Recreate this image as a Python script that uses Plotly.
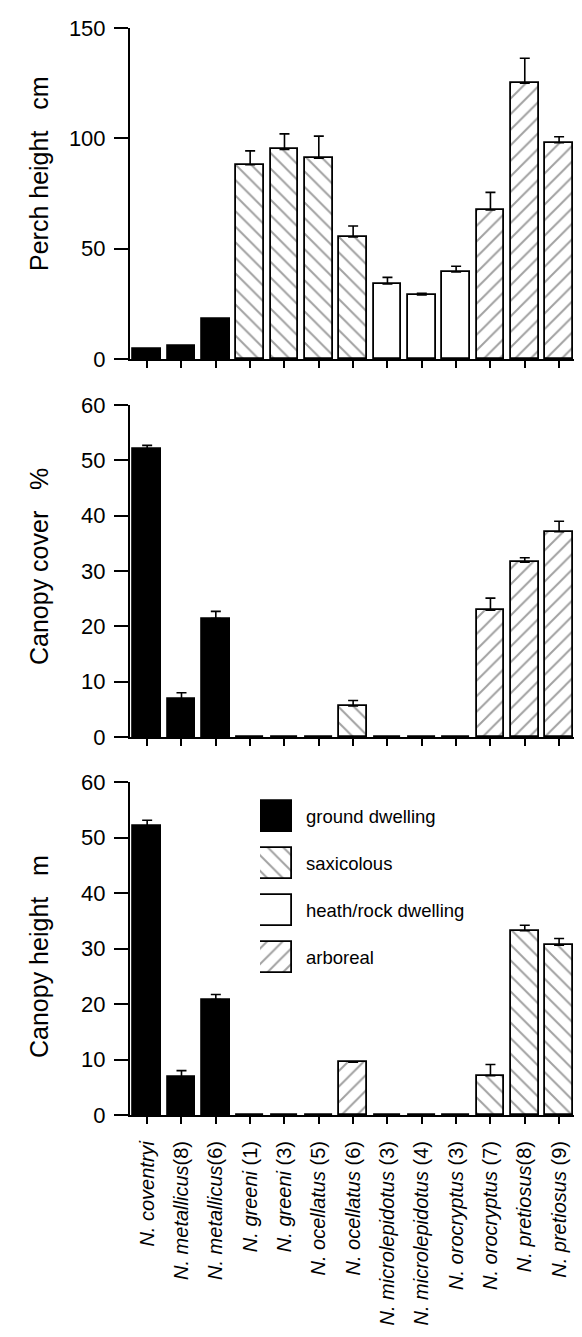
import plotly.graph_objects as go

# ---------------- data ----------------
species = ["<i>N. coventryi</i>", "<i>N. metallicus</i>(8)", "<i>N. metallicus</i>(6)",
           "<i>N. greeni</i> (1)", "<i>N. greeni</i> (3)", "<i>N. ocellatus</i> (5)",
           "<i>N. ocellatus</i> (6)", "<i>N. microlepidotus</i> (3)", "<i>N. microlepidotus</i> (4)",
           "<i>N. orocryptus</i> (3)", "<i>N. orocryptus</i> (7)", "<i>N. pretiosus</i>(8)",
           "<i>N. pretiosus</i> (9)"]

perch_height = [4.5, 6.0, 18.0, 88.0, 95.0, 91.0, 55.3, 34.0, 29.0, 39.5, 67.5, 125.0, 98.0]
perch_err = [None, None, None, 6.3, 7.0, 10.0, 5.0, 3.0, 0.8, 2.5, 8.0, 11.3, 2.7]
perch_class = ["ground", "ground", "ground", "sax", "sax", "sax", "sax",
               "heath", "heath", "heath", "arb", "arb", "arb"]

canopy_cover = [52.0, 6.9, 21.4, 0, 0, 0, 5.6, 0, 0, 0, 22.9, 31.6, 37.1]
cover_err = [0.7, 1.1, 1.3, None, None, None, 1.0, None, None, None, 2.2, 0.8, 1.9]
cover_class = ["ground", "ground", "ground", "heath", "heath", "heath", "sax",
               "heath", "heath", "heath", "arb", "arb", "arb"]

canopy_height = [52.1, 6.85, 20.8, 0, 0, 0, 9.5, 0, 0, 0, 7.1, 33.2, 30.6]
height_err = [1.0, 1.15, 0.9, None, None, None, None, None, None, None, 2.0, 1.0, 1.2]
height_class = ["ground", "ground", "ground", "heath", "heath", "heath", "arb",
                "heath", "heath", "heath", "sax", "sax", "sax"]

legend_keys = ["ground", "sax", "heath", "arb"]
legend_labels = ["ground dwelling", "saxicolous", "heath/rock dwelling", "arboreal"]

# ---------------- styling ----------------
FONT = "Liberation Sans, Arial, Helvetica, sans-serif"
STYLE = {
    "ground": dict(color="black", shape=""),
    "sax": dict(color="white", shape="\\"),
    "heath": dict(color="white", shape=""),
    "arb": dict(color="white", shape="/"),
}
PAT_SIZE, PAT_SOLID = 11, 0.18

xpos = list(range(len(species)))


def bar_trace(vals, errs, classes, xa, ya):
    return go.Bar(
        x=xpos, y=vals, xaxis=xa, yaxis=ya, width=0.81, showlegend=False,
        marker=dict(
            color=[STYLE[c]["color"] for c in classes],
            line=dict(color="black", width=1.8),
            pattern=dict(shape=[STYLE[c]["shape"] for c in classes],
                         fgcolor="black", bgcolor="white", size=PAT_SIZE, solidity=PAT_SOLID),
        ),
        error_y=dict(type="data", array=errs, arrayminus=[0] * len(errs),
                     symmetric=False, color="black", thickness=1.6, width=5),
    )


fig = go.Figure()
fig.add_trace(bar_trace(perch_height, perch_err, perch_class, "x", "y"))
fig.add_trace(bar_trace(canopy_cover, cover_err, cover_class, "x2", "y2"))
fig.add_trace(bar_trace(canopy_height, height_err, height_class, "x3", "y3"))

# legend swatches drawn as bars on an auxiliary axis
fig.add_trace(go.Bar(
    x=[1] * 4, y=legend_keys, orientation="h", xaxis="x4", yaxis="y4", width=0.64,
    showlegend=False,
    marker=dict(
        color=[STYLE[k]["color"] for k in legend_keys],
        line=dict(color="black", width=1.8),
        pattern=dict(shape=[STYLE[k]["shape"] for k in legend_keys],
                     fgcolor="black", bgcolor="white", size=PAT_SIZE, solidity=PAT_SOLID),
    ),
))

H = 1337
top_px, bot_px = 20, 1107
span = bot_px - top_px


def py(p):
    return (bot_px - p) / span


xcommon = dict(range=[-0.5, 12.9], tickvals=xpos, showline=True, linewidth=2,
               linecolor="black", ticks="outside", ticklen=7, tickwidth=1.5,
               tickcolor="black", showgrid=False, zeroline=False, fixedrange=True)
ycommon = dict(showline=True, linewidth=2, linecolor="black", ticks="outside",
               ticklen=14, tickwidth=1.5, tickcolor="black", showgrid=False,
               zeroline=False, tickfont=dict(size=22, family=FONT, color="black"),
               ticklabelstandoff=4)

fig.update_layout(
    width=582, height=H, margin=dict(l=122, r=0, t=top_px, b=H - bot_px),
    paper_bgcolor="white", plot_bgcolor="white", bargap=0,
    font=dict(family=FONT, color="black"),
    xaxis=dict(**xcommon, anchor="y", showticklabels=False),
    xaxis2=dict(**xcommon, anchor="y2", showticklabels=False),
    xaxis3=dict(**xcommon, anchor="y3", ticktext=species, tickangle=-90,
                tickfont=dict(size=20, family=FONT, color="black"), ticklabelstandoff=9),
    yaxis=dict(**ycommon, domain=[py(351), py(20)], range=[0, 150], tickvals=[0, 50, 100, 150], anchor="x"),
    yaxis2=dict(**ycommon, domain=[py(729), py(397)], range=[0, 60], tickvals=[0, 10, 20, 30, 40, 50, 60], anchor="x2"),
    yaxis3=dict(**ycommon, domain=[0, py(774)], range=[0, 60], tickvals=[0, 10, 20, 30, 40, 50, 60], anchor="x3"),
    xaxis4=dict(domain=[(252 - 122) / 460, (284 - 122) / 460], range=[0, 1], visible=False,
                anchor="y4", fixedrange=True),
    yaxis4=dict(domain=[py(973), py(785)], range=[3.5, -0.5], visible=False, anchor="x4",
                type="category", categoryorder="array", categoryarray=legend_keys, fixedrange=True),
)

# legend labels
for k, lab in zip(legend_keys, legend_labels):
    fig.add_annotation(x=(296 - 122) / 460, xref="paper", y=k, yref="y4", text=lab,
                       showarrow=False, xanchor="left", yanchor="middle",
                       font=dict(size=18.5, family=FONT, color="black"))

# y-axis titles
titles = [("Perch height\u00a0\u00a0\u00a0cm", 166),
          ("Canopy cover\u00a0\u00a0\u00a0%", 559),
          ("Canopy height\u00a0\u00a0\u00a0m", 949)]
for txt, yc in titles:
    fig.add_annotation(x=(31 - 122) / 460, xref="paper", y=py(yc), yref="paper",
                       text=txt, textangle=-90, showarrow=False, xanchor="center",
                       yanchor="middle", font=dict(size=25, family=FONT, color="black"))

fig.write_html("out.html")
